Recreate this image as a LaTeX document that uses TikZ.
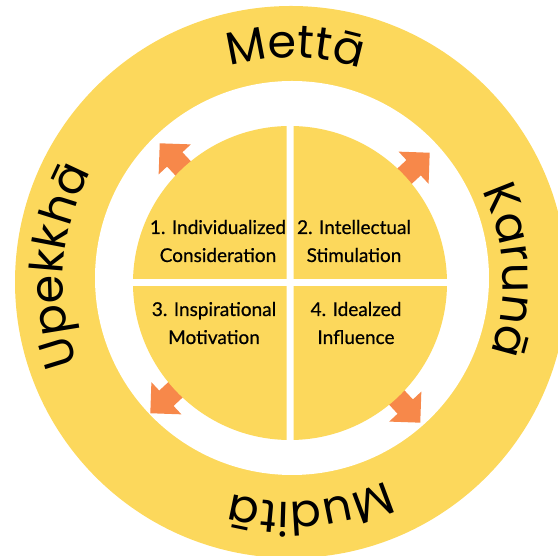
\documentclass[tikz,border=0pt]{standalone}
\usepackage{fontspec}
\setmainfont{Lato}
\newfontfamily\ringfont{Poppins}
\newfontfamily\quadfont[FakeBold=0.6]{Lato}
\usetikzlibrary{decorations.text,calc}
\definecolor{ringyellow}{HTML}{FCD85C}
\definecolor{arroworange}{HTML}{F7884A}
\begin{document}
\begin{tikzpicture}[x=1pt,y=1pt,
  ringlabel/.style={decorate, decoration={text along path, text align=center, text color=black}},
  quadtext/.style={align=center, font=\quadfont\fontsize{19}{28}\selectfont, text=black, anchor=base},
  arrowshape/.style={fill=arroworange}]
\useasboundingbox (0,0) rectangle (558,556);
\clip (0,0) rectangle (558,556);
\coordinate (oc) at (291,274);
\coordinate (wc) at (292,278);
\coordinate (dc) at (290,273);
% outer ring
\fill[ringyellow] (oc) circle (276);
\fill[white] (wc) circle (197);
% arrows
\foreach \ang/\nm in {133/a1,43/a2,223/a3,313/a4}{
  \begin{scope}[shift={(dc)}, rotate=\ang]
    \fill[arrowshape] (120,-10.5) -- (169,-10.5) -- (169,-22) -- (191,0) -- (169,22) -- (169,10.5) -- (120,10.5) -- cycle;
  \end{scope}
}
% quadrants
\begin{scope}
  \clip ($(dc)+(-200,4)$) rectangle ($(dc)+(-3.5,200)$);
  \fill[ringyellow] (dc) circle (157);
\end{scope}
\begin{scope}
  \clip ($(dc)+(3.5,4)$) rectangle ($(dc)+(200,200)$);
  \fill[ringyellow] (dc) circle (157);
\end{scope}
\begin{scope}
  \clip ($(dc)+(-200,-4)$) rectangle ($(dc)+(-3.5,-200)$);
  \fill[ringyellow] (dc) circle (157);
\end{scope}
\begin{scope}
  \clip ($(dc)+(3.5,-4)$) rectangle ($(dc)+(200,-200)$);
  \fill[ringyellow] (dc) circle (157);
\end{scope}
% quadrant texts
\node[quadtext] (q1) at (218,294) {1. Individualized\\Consideration};
\node[quadtext] (q2) at (354,294) {2. Intellectual\\Stimulation};
\node[quadtext] (q3) at (214,212) {3. Inspirational\\Motivation};
\node[quadtext] (q4) at (356,212) {4. Idealzed\\Influence};
% ring labels
\path[ringlabel, decoration={text={|\ringfont\fontsize{46}{46}\selectfont|Mettā}}]
  (oc) ++(129:224) arc[start angle=129, end angle=49, radius=224];
\path[ringlabel, decoration={text={|\ringfont\fontsize{46}{46}\selectfont|Karunā}}]
  (oc) ++(43:212) arc[start angle=43, end angle=-37, radius=212];
\path[ringlabel, decoration={text={|\ringfont\fontsize{46}{46}\selectfont|Muditā}}]
  (oc) ++(-45:220) arc[start angle=-45, end angle=-125, radius=220];
\path[ringlabel, decoration={text={|\ringfont\fontsize{46}{46}\selectfont|Upekkhā}}]
  (oc) ++(-144:228) arc[start angle=-144, end angle=-224, radius=228];
\end{tikzpicture}
\end{document}
